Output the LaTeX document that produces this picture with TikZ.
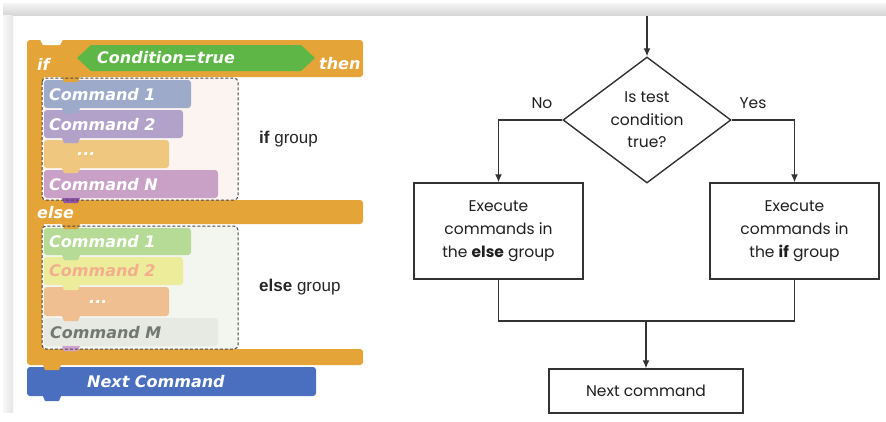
\documentclass[tikz,border=0pt]{standalone}
\usepackage{fontspec}
\setmainfont{Poppins}
\newfontfamily\scratchfont{DejaVu Sans}
\newfontfamily\arialfont{Liberation Sans}
\usetikzlibrary{shapes.geometric,arrows.meta}
\definecolor{sorange}{HTML}{E5A437}
\definecolor{sgreen}{HTML}{5DB645}
\definecolor{ciA}{HTML}{9DAAC9}
\definecolor{ciB}{HTML}{B2A1C9}
\definecolor{ciC}{HTML}{EFC77F}
\definecolor{ciD}{HTML}{C9A1C6}
\definecolor{ciDtab}{HTML}{8E52A8}
\definecolor{ifbg}{HTML}{FCF4F0}
\definecolor{elbg}{HTML}{F3F6EE}
\definecolor{ceA}{HTML}{B5DB97}
\definecolor{ceB}{HTML}{EDEC9B}
\definecolor{ceBtxt}{HTML}{F2AE8E}
\definecolor{ceC}{HTML}{EFBF92}
\definecolor{ceD}{HTML}{E7E9E3}
\definecolor{ceDtxt}{HTML}{747872}
\definecolor{ceDtab}{HTML}{CFA3CF}
\definecolor{snext}{HTML}{4A6FBF}
\definecolor{fline}{HTML}{333333}
\tikzset{
  blk/.style={rounded corners=3pt},
  stext/.style={font=\scratchfont\bfseries\itshape\fontsize{16}{16}\selectfont, text=white, inner sep=0pt, anchor=west},
  grp/.style={draw=black!72, dash pattern=on 3pt off 2pt, line width=1pt, rounded corners=4pt},
  glabel/.style={font=\arialfont\fontsize{17}{17}\selectfont, text=black!85, anchor=west, inner sep=0pt},
  fbox/.style={draw=fline, line width=1.4pt, align=center, font=\fontsize{15.5}{23}\selectfont, text=black!88, inner sep=0pt},
  fline/.style={draw=fline, line width=1.3pt},
  farrow/.style={fline, -{Latex[length=8pt,width=7pt]}},
  flabel/.style={font=\fontsize{15.5}{15.5}\selectfont, text=black!88, inner sep=0pt},
}
\newcommand{\stab}[3]{\fill[#3] (#1,#2) -- (#1+2,#2+5) -- (#1+16,#2+5) -- (#1+18,#2) -- cycle;}
\begin{document}
\begin{tikzpicture}[x=1pt,y=-1pt]
\useasboundingbox (0,0) rectangle (886,421);
\fill[white] (0,0) rectangle (886,421);
% page shadow
\shade[top color=black!4, bottom color=black!16] (3,3) rectangle (886,15);
\shade[left color=black!3, right color=black!10] (3,15) rectangle (13,412);
% ---------------- Scratch blocks ----------------
\fill[sorange, blk] (27,40) rectangle (363,77);
\fill[sorange] (27,60) rectangle (44,360);
\fill[sorange, blk] (27,200) rectangle (363,224);
\fill[sorange, blk] (27,349) rectangle (363,365);
\fill[white] (40,39.5) -- (43,45) -- (60,45) -- (63,39.5) -- cycle;
% condition
\fill[sgreen] (77,58) -- (91,45) -- (301,45) -- (315,58) -- (301,71) -- (91,71) -- cycle;
\node[stext] (ifkw) at (37,64) {if};
\node[stext] (cond) at (97,58) {Condition=true};
\node[stext] (thenkw) at (319,64) {then};
\node[stext] (elsekw) at (37,213) {else};
% group backgrounds
\fill[ifbg, rounded corners=4pt] (42,78) rectangle (238,200);
\fill[elbg, rounded corners=4pt] (42,226) rectangle (238,349);
% if group commands
\fill[ciA, blk] (44,80) rectangle (191,108);
\fill[ciB, blk] (44,110) rectangle (183,138);
\fill[ciC, blk] (44,140) rectangle (169,168);
\fill[ciD, blk] (44,170) rectangle (218,198);
\stab{62}{77}{sorange}
\stab{62}{108}{ciA}
\stab{62}{138}{ciB}
\stab{62}{168}{ciC}
\stab{62}{198}{ciDtab}
\node[stext] (ic1) at (49,95) {Command 1};
\node[stext] (ic2) at (49,125) {Command 2};
\node[stext] (ic3) at (77,154) {...};
\node[stext] (ic4) at (49,185) {Command N};
% else group commands
\fill[ceA, blk] (44,228) rectangle (191,255);
\fill[ceB, blk] (44,257) rectangle (183,285);
\fill[ceC, blk] (44,287) rectangle (169,316);
\fill[ceD, blk] (44,318) rectangle (218,346);
\stab{62}{224}{sorange}
\stab{62}{255}{ceA}
\stab{62}{285}{ceB}
\stab{62}{316}{ceC}
\stab{62}{346}{ceDtab}
\node[stext] (ec1) at (49,242) {Command 1};
\node[stext, text=ceBtxt] (ec2) at (49,271) {Command 2};
\node[stext] (ec3) at (89,302) {...};
\node[stext, text=ceDtxt] (ec4) at (50,333) {Command M};
% dashed group outlines
\draw[grp] (42,78) rectangle (238,200);
\draw[grp] (42,226) rectangle (238,349);
\node[glabel] (ifg) at (259,139) {\bfseries if\mdseries{} group};
\node[glabel] (elg) at (259,287) {\bfseries else\mdseries{} group};
% next command
\fill[snext, blk] (27,367) rectangle (316,396);
\stab{43}{365}{sorange}
\stab{43}{396}{snext}
\node[stext] (nextc) at (87,382) {Next Command};
% ---------------- Flowchart ----------------
\coordinate (start) at (647,16);
\node[diamond, draw=fline, line width=1.4pt, minimum width=168pt, minimum height=126pt, aspect=1.333, inner sep=0pt, align=center, font=\fontsize{15.5}{22.5}\selectfont, text=black!88] (test) at (647,120) {Is test\\condition\\true?};
\node[fbox, minimum width=169pt, minimum height=96pt] (ebox) at (498.5,231) {Execute\\commands in\\the \textbf{else} group};
\node[fbox, minimum width=169pt, minimum height=96pt] (ibox) at (794.5,231) {Execute\\commands in\\the \textbf{if} group};
\node[fbox, minimum width=194pt, minimum height=44pt] (nbox) at (646,391) {Next command};
\coordinate (join) at (646,321);
\draw[farrow] (start) -- (test.north);
\draw[farrow] (test.west) -| (ebox.north);
\draw[farrow] (test.east) -| (ibox.north);
\draw[fline] (ebox.south) |- (join);
\draw[fline] (ibox.south) |- (join);
\draw[farrow] (join) -- (nbox.north);
\node[flabel] (nolab) at (542,103) {No};
\node[flabel] (yeslab) at (753,103) {Yes};
\end{tikzpicture}
\end{document}
